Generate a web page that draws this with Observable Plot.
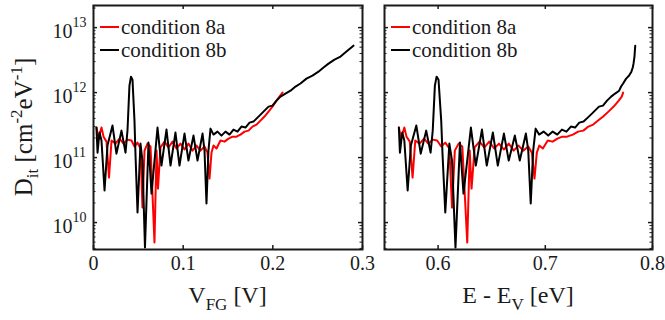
<!DOCTYPE html>
<html><head><meta charset="utf-8">
<script src="https://cdn.jsdelivr.net/npm/d3@7"></script>
<script src="https://cdn.jsdelivr.net/npm/@observablehq/plot@0.6"></script>
<style>
body{margin:0;background:#fff;}
#wrap{position:relative;width:665px;height:320px;background:#fff;overflow:hidden}
#wrap svg{position:absolute;left:0;top:0}
</style></head><body><div id="wrap"></div>
<script>
const seriesNames = ["condition 8a", "condition 8b"];
const seriesColors = ["#ff0000", "#000000"];

// condition 8a (red): V_FG [V], E - E_V [eV], D_it [cm^-2 eV^-1]
const v8a = [0.0033,0.0056,0.0089,0.0112,0.0145,0.0173,0.0201,0.0245,0.0290,0.0335,0.0379,0.0424,0.0457,0.0491,0.0524,0.0546,0.0569,0.0602,0.0636,0.0680,0.0703,0.0719,0.0747,0.0792,0.0836,0.0881,0.0926,0.0970,0.1015,0.1059,0.1104,0.1149,0.1193,0.1238,0.1271,0.1294,0.1316,0.1338,0.1372,0.1416,0.1461,0.1506,0.1550,0.1595,0.1639,0.1684,0.1729,0.1773,0.1818,0.1862,0.1907,0.1952,0.1996,0.2041,0.2074,0.2108];
const e8a = [0.5634,0.5655,0.5685,0.5705,0.5736,0.5762,0.5787,0.5827,0.5869,0.5909,0.5950,0.5991,0.6029,0.6067,0.6105,0.6130,0.6156,0.6191,0.6226,0.6272,0.6295,0.6312,0.6341,0.6386,0.6432,0.6477,0.6523,0.6568,0.6614,0.6659,0.6705,0.6750,0.6795,0.6841,0.6875,0.6899,0.6921,0.6944,0.6977,0.7023,0.7068,0.7113,0.7158,0.7203,0.7257,0.7306,0.7355,0.7402,0.7447,0.7492,0.7540,0.7589,0.7638,0.7685,0.7713,0.7726];
const d8a = [2.90e11,1.96e11,2.90e11,2.10e11,1.76e11,4.92e10,1.83e11,1.64e11,1.96e11,1.64e11,1.89e11,1.83e11,1.48e11,1.70e11,1.38e11,1.70e10,1.28e11,1.64e11,1.48e11,4.92e9,1.28e11,3.33e10,1.43e11,1.76e11,1.43e11,1.76e11,1.38e11,1.64e11,1.33e11,1.64e11,1.28e11,1.53e11,1.28e11,1.48e11,1.19e11,4.75e10,1.19e11,1.53e11,1.38e11,1.83e11,1.76e11,1.96e11,2.10e11,2.10e11,2.26e11,2.51e11,2.60e11,3.00e11,3.22e11,3.71e11,4.28e11,5.10e11,6.09e11,7.53e11,8.67e11,1.00e12];

// condition 8b (black)
const v8b = [0.0033,0.0045,0.0067,0.0089,0.0123,0.0156,0.0212,0.0256,0.0312,0.0357,0.0379,0.0401,0.0418,0.0435,0.0457,0.0468,0.0491,0.0524,0.0546,0.0574,0.0613,0.0647,0.0714,0.0758,0.0814,0.0859,0.0914,0.0959,0.1015,0.1059,0.1115,0.1160,0.1216,0.1238,0.1260,0.1282,0.1305,0.1338,0.1383,0.1427,0.1472,0.1517,0.1561,0.1606,0.1650,0.1695,0.1740,0.1784,0.1829,0.1874,0.1907,0.1952,0.1996,0.2041,0.2085,0.2141,0.2197,0.2253,0.2308,0.2375,0.2442,0.2509,0.2565,0.2621,0.2688,0.2755,0.2821,0.2899];
const e8b = [0.5634,0.5644,0.5665,0.5685,0.5716,0.5746,0.5797,0.5838,0.5889,0.5930,0.5950,0.5970,0.5986,0.6004,0.6029,0.6041,0.6067,0.6105,0.6130,0.6162,0.6204,0.6237,0.6306,0.6352,0.6409,0.6454,0.6511,0.6557,0.6614,0.6659,0.6716,0.6762,0.6819,0.6841,0.6864,0.6887,0.6910,0.6942,0.6984,0.7027,0.7069,0.7112,0.7155,0.7197,0.7239,0.7278,0.7317,0.7357,0.7396,0.7435,0.7463,0.7501,0.7538,0.7576,0.7614,0.7651,0.7689,0.7707,0.7726,0.7754,0.7782,0.7803,0.7816,0.7823,0.7828,0.7832,0.7835,0.7839];
const d8b = [2.90e11,1.19e11,2.43e11,1.83e11,3.11e10,1.53e11,3.11e11,1.15e11,2.60e11,1.19e11,2.60e11,1.28e12,1.76e12,1.58e12,3.71e11,1.15e11,1.43e10,1.64e11,8.99e10,4.12e9,1.70e11,2.79e10,2.90e11,7.53e10,2.70e11,7.53e10,2.43e11,7.53e10,2.34e11,8.99e10,2.18e11,8.99e10,2.34e11,1.28e11,1.96e10,1.28e11,2.79e11,2.26e11,2.51e11,2.18e11,2.51e11,2.26e11,2.70e11,2.51e11,3.00e11,2.90e11,3.45e11,3.58e11,4.12e11,4.75e11,5.28e11,6.09e11,6.31e11,7.53e11,8.67e11,9.66e11,1.07e12,1.24e12,1.38e12,1.64e12,1.83e12,2.10e12,2.43e12,2.79e12,3.22e12,3.58e12,4.28e12,5.28e12];

const xTicksV = [0, 0.1, 0.2, 0.3];
const xTicksE = [0.6, 0.7, 0.8];
const yMajor = [1e10, 1e11, 1e12, 1e13];
const yExponents = ["10", "11", "12", "13"];

const tableA = v8a.map((v, i) => ({v, e: e8a[i], d: d8a[i]}));
const tableB = v8b.map((v, i) => ({v, e: e8b[i], d: d8b[i]}));

const W = 665, H = 320, MT = 5, MB = 71;
const plotH = H - MT - MB;
const yDomain = [3.85e9, 2.19e13];
const yMinor = [];
for (let n = 9; n <= 13; n++) for (let k = 2; k <= 9; k++) {
  const t = k * Math.pow(10, n);
  if (t > yDomain[0] && t < yDomain[1]) yMinor.push(t);
}
const FONT = "'Liberation Serif', 'Times New Roman', serif";
const INK = "#1a1a1a";

function panel({xKey, xDomain, xTicks, ml, mr, showYLabels, fmt}) {
  const plotW = W - ml - mr;
  const marks = [
    Plot.line(tableA, {x: xKey, y: "d", stroke: seriesColors[0], strokeWidth: 2}),
    Plot.line(tableB, {x: xKey, y: "d", stroke: seriesColors[1], strokeWidth: 2}),
    Plot.tickX(xTicks, {x: d => d, insetTop: plotH - 4, stroke: INK, strokeWidth: 1.5}),
    Plot.tickX(xTicks, {x: d => d, insetBottom: plotH - 4, stroke: INK, strokeWidth: 1.5}),
    Plot.tickY(yMajor, {y: d => d, insetRight: plotW - 4, stroke: INK, strokeWidth: 1.5}),
    Plot.tickY(yMajor, {y: d => d, insetLeft: plotW - 4, stroke: INK, strokeWidth: 1.5}),
    Plot.tickY(yMinor, {y: d => d, insetRight: plotW - 2.5, stroke: INK, strokeWidth: 1}),
    Plot.tickY(yMinor, {y: d => d, insetLeft: plotW - 2.5, stroke: INK, strokeWidth: 1}),
    Plot.frame({stroke: INK, strokeWidth: 2}),
    Plot.text(xTicks, {x: d => d, frameAnchor: "bottom", dy: 20, text: fmt, fontSize: 20, fill: INK, fontFamily: FONT})
  ];
  if (showYLabels) {
    marks.push(
      Plot.text(yMajor, {y: d => d, frameAnchor: "left", dx: -21, dy: 4, textAnchor: "end", text: () => "10", fontSize: 20, fill: INK, fontFamily: FONT}),
      Plot.text(yMajor, {y: d => d, frameAnchor: "left", dx: -21, dy: -5, textAnchor: "start", text: (d, i) => yExponents[i], fontSize: 14, fill: INK, fontFamily: FONT})
    );
  }
  return Plot.plot({
    width: W, height: H,
    marginTop: MT, marginBottom: MB, marginLeft: ml, marginRight: mr,
    x: {type: "linear", domain: xDomain, axis: null},
    y: {type: "log", domain: yDomain, axis: null},
    style: {background: "transparent", fontFamily: FONT, overflow: "visible"},
    marks
  });
}

const left = panel({xKey: "v", xDomain: [0, 0.3], xTicks: xTicksV, ml: 93, mr: W - 362, showYLabels: true, fmt: d => String(d)});
const right = panel({xKey: "e", xDomain: [0.55, 0.8], xTicks: xTicksE, ml: 384, mr: W - 652, showYLabels: false, fmt: d => d.toFixed(1)});
const wrap = document.getElementById("wrap");
wrap.appendChild(left);
wrap.appendChild(right);

function legend(svg, x0) {
  seriesNames.forEach((name, i) => {
    const y = 27 + i * 23;
    svg.append("line").attr("x1", x0).attr("x2", x0 + 19).attr("y1", y).attr("y2", y)
      .attr("stroke", seriesColors[i]).attr("stroke-width", 2);
    svg.append("text").attr("x", x0 + 21).attr("y", y + 7).attr("font-size", 21)
      .attr("text-anchor", "start")
      .attr("font-family", FONT).attr("fill", INK).text(name);
  });
}
const sl = d3.select(left), sr = d3.select(right);
legend(sl, 100);
legend(sr, 391);

// x-axis titles
function xTitle(svg, cx, parts) {
  const t = svg.append("text").attr("x", cx).attr("y", 303).attr("text-anchor", "middle")
    .attr("font-family", FONT).attr("fill", INK).attr("font-size", 24);
  parts.forEach(([s, sub]) => {
    const ts = t.append("tspan").text(s);
    if (sub === 1) ts.attr("font-size", 17).attr("dy", 7);
    else if (sub === -1) ts.attr("dy", -7);
  });
}
xTitle(sl, 227.5, [["V", 0], ["FG", 1], [" [V]", -1]]);
xTitle(sr, 518, [["E - E", 0], ["V", 1], [" [eV]", -1]]);

// y-axis title
const yt = sl.append("text").attr("transform", "translate(32,127) rotate(-90)")
  .attr("text-anchor", "middle").attr("font-family", FONT).attr("fill", INK).attr("font-size", 25);
yt.append("tspan").text("D");
yt.append("tspan").text("it").attr("font-size", 17).attr("dy", 6);
yt.append("tspan").text(" [cm").attr("dy", -6);
yt.append("tspan").text("-2").attr("font-size", 17).attr("dy", -10);
yt.append("tspan").text("eV").attr("dy", 10);
yt.append("tspan").text("-1").attr("font-size", 17).attr("dy", -10);
yt.append("tspan").text("]").attr("dy", 10);
</script></body></html>
